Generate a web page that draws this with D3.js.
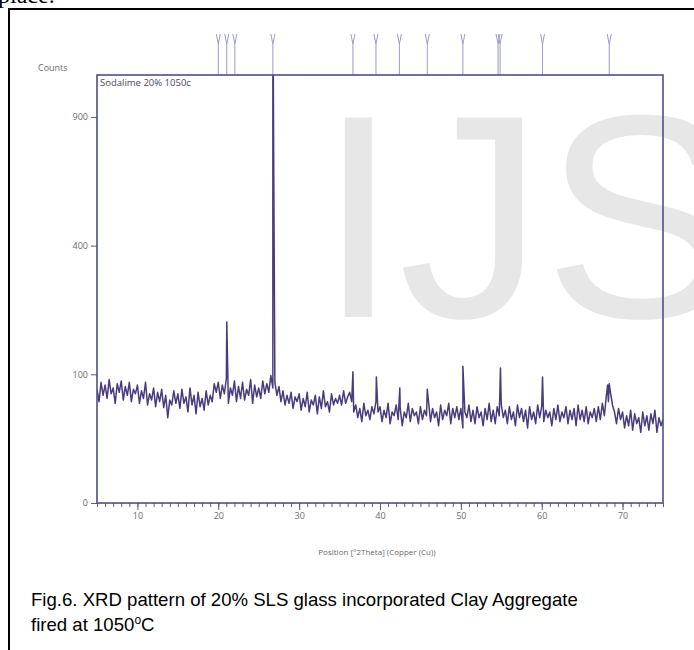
<!DOCTYPE html>
<html>
<head>
<meta charset="utf-8">
<script src="https://cdn.jsdelivr.net/npm/d3@7"></script>
<style>
  body { margin: 0; background: #fff; }
  .tick text { font-family: "Open Sans", sans-serif; font-size: 9px; fill: #6b6b6b; }
</style>
</head>
<body>
<div class="chart"></div>
<script>
// Step 0: data
//= ================================
var startAngle = 5;
var stepAngle = 0.25;

// background counts, 5.00 .. 75.00 deg 2Theta, every 0.25 deg
var counts = [
  78, 62, 88, 70, 84, 66, 92, 72, 80, 60, 86, 74, 90, 64, 82, 70, 88, 62, 78, 72,
  84, 60, 76, 66, 88, 58, 72, 64, 80, 56, 74, 62, 78, 55, 70, 44, 64, 58, 76, 60,
  72, 54, 78, 60, 68, 50, 80, 58, 70, 48, 74, 56, 66, 52, 76, 58, 70, 62, 86, 74,
  88, 66, 84, 72, 94, 60, 80, 70, 90, 62, 82, 66, 88, 64, 78, 70, 92, 60, 84, 68,
  80, 66, 90, 72, 86, 74, 98, 80, 88, 70, 82, 62, 76, 58, 70, 60, 74, 54, 68, 62,
  72, 52, 66, 56, 74, 50, 64, 58, 70, 48, 68, 54, 76, 56, 62, 50, 72, 58, 66, 60,
  70, 58, 76, 60, 68, 74, 62, 50, 58, 44, 54, 40, 60, 46, 52, 42, 56, 48, 62, 50,
  56, 40, 52, 44, 60, 38, 50, 46, 58, 42, 54, 36, 50, 44, 60, 40, 54, 46, 50, 38,
  56, 42, 52, 46, 62, 40, 54, 44, 50, 36, 58, 42, 52, 46, 60, 38, 54, 44, 56, 42,
  54, 34, 50, 44, 58, 40, 52, 38, 56, 44, 50, 36, 54, 42, 60, 40, 52, 38, 56, 46,
  58, 44, 52, 38, 56, 42, 50, 36, 58, 44, 54, 40, 52, 34, 56, 42, 50, 38, 58, 44,
  56, 40, 52, 44, 50, 36, 54, 42, 58, 40, 50, 44, 56, 38, 52, 42, 54, 36, 58, 42,
  52, 40, 56, 38, 50, 44, 54, 40, 56, 42, 60, 46, 70, 62, 74, 58, 50, 38, 54, 42,
  50, 34, 46, 36, 52, 32, 48, 38, 44, 30, 50, 36, 46, 32, 48, 38, 52, 30, 44, 36,
  42
];

// sharp reflections [2Theta, counts]
var peaks = [
  [21.05, 198], [26.75, 1600], [26.85, 730], [36.65, 104], [39.55, 96],
  [42.45, 80], [45.85, 78], [50.25, 113], [54.9, 110], [60.1, 96],
  [68.15, 84], [68.35, 86]
];

// reference pattern markers along the top
var markers = [20.0, 21.05, 22.05, 26.75, 36.65, 39.5, 42.4, 45.85, 50.25, 54.6, 54.85, 60.1, 68.35];

var xTicks = [10, 20, 30, 40, 50, 60, 70];
var yTicks = [0, 100, 400, 900];

// Step 1: Set up our chart
//= ================================
var svgWidth = 694;
var svgHeight = 650;

var margin = { top: 75, right: 31, bottom: 147, left: 97 };

var width = svgWidth - margin.left - margin.right;
var height = svgHeight - margin.top - margin.bottom;

var svg = d3
  .select(".chart")
  .append("svg")
  .attr("width", svgWidth)
  .attr("height", svgHeight)
  .style("display", "block");

// bits of the page around the figure
svg.append("text")
  .attr("x", -2)
  .attr("y", 3)
  .style("font-family", "Liberation Serif, serif")
  .style("font-size", "24px")
  .attr("fill", "#000")
  .text("place.");

svg.append("line")
  .attr("x1", 8).attr("x2", svgWidth)
  .attr("y1", 9).attr("y2", 9)
  .attr("stroke", "#000").attr("stroke-width", 2);

svg.append("line")
  .attr("x1", 9).attr("x2", 9)
  .attr("y1", 8).attr("y2", svgHeight)
  .attr("stroke", "#000").attr("stroke-width", 2);

// watermark
svg.append("text")
  .attr("x", 318)
  .attr("y", 317)
  .style("font-family", "Liberation Sans, Arial, sans-serif")
  .style("font-size", "290px")
  .attr("fill", "#e7e7e7")
  .text("IJS");

var chart = svg.append("g")
  .attr("transform", "translate(" + margin.left + "," + margin.top + ")");

var xLinearScale = d3.scaleLinear().domain([5, 75]).range([0, width]);
var ySqrtScale = d3.scaleSqrt().domain([0, 1106]).range([height, 0]);

// merge background and peaks into one pattern
var pattern = counts.map(function(c, i) {
  return { t: startAngle + i * stepAngle, c: c };
});
peaks.forEach(function(p) {
  pattern.push({ t: p[0], c: p[1] });
});
pattern.sort(function(a, b) { return a.t - b.t; });

chart.append("clipPath")
  .attr("id", "plot-clip")
  .append("rect")
  .attr("width", width)
  .attr("height", height);

var line = d3.line()
  .x(function(d) { return xLinearScale(d.t); })
  .y(function(d) { return ySqrtScale(d.c); });

chart.append("path")
  .datum(pattern)
  .attr("clip-path", "url(#plot-clip)")
  .attr("d", line)
  .attr("fill", "none")
  .attr("stroke", "#4a3b7c")
  .attr("stroke-width", 1.5)
  .attr("stroke-linejoin", "round");

// markers above the frame
chart.selectAll(".marker")
  .data(markers)
  .enter()
  .append("path")
  .attr("class", "marker")
  .attr("d", function(m) {
    var mx = xLinearScale(m);
    return "M" + mx + ",0V-31M" + (mx - 2) + ",-41L" + mx + ",-31L" + (mx + 2) + ",-41";
  })
  .attr("fill", "none")
  .attr("stroke", "#9b9bc8")
  .attr("stroke-width", 1);

// axes
var bottomAxis = d3.axisBottom(xLinearScale)
  .tickValues(xTicks)
  .tickSize(7)
  .tickPadding(3)
  .tickFormat(d3.format("d"));

var minorAxis = d3.axisBottom(xLinearScale)
  .tickValues(d3.range(5, 76))
  .tickSize(4)
  .tickFormat("");

var leftAxis = d3.axisLeft(ySqrtScale)
  .tickValues(yTicks)
  .tickSize(6)
  .tickPadding(3);

chart.append("g")
  .attr("transform", "translate(0," + height + ")")
  .attr("class", "x-axis-minor")
  .call(minorAxis);

chart.append("g")
  .attr("transform", "translate(0," + height + ")")
  .attr("class", "x-axis")
  .call(bottomAxis);

chart.append("g")
  .attr("class", "y-axis")
  .call(leftAxis);

chart.selectAll(".domain").remove();
chart.selectAll(".tick line").attr("stroke", "#5a5a8e").attr("stroke-width", 1);

chart.append("rect")
  .attr("width", width)
  .attr("height", height)
  .attr("fill", "none")
  .attr("stroke", "#4f4f86")
  .attr("stroke-width", 1.6);

// labels
chart.append("text")
  .attr("x", 3)
  .attr("y", 11)
  .style("font-family", "Open Sans, sans-serif")
  .style("font-size", "9.5px")
  .attr("fill", "#4a4a5c")
  .text("Sodalime 20% 1050c");

svg.append("text")
  .attr("x", 38)
  .attr("y", 71)
  .style("font-family", "Open Sans, sans-serif")
  .style("font-size", "9px")
  .attr("fill", "#6b6b6b")
  .text("Counts");

chart.append("text")
  .attr("x", width / 2 - 3)
  .attr("y", height + 52)
  .attr("text-anchor", "middle")
  .style("font-family", "Open Sans, sans-serif")
  .style("font-size", "8px")
  .attr("fill", "#6b6b6b")
  .text("Position [\u00b02Theta] (Copper (Cu))");

// caption
var line1 = svg.append("text")
  .attr("x", 31).attr("y", 606)
  .style("font-family", "Liberation Sans, Arial, sans-serif")
  .style("font-size", "18.6px")
  .attr("fill", "#000")
  .text("Fig.6. XRD pattern of 20% SLS glass incorporated Clay Aggregate");

var line2 = svg.append("text")
  .attr("x", 31).attr("y", 631)
  .style("font-family", "Liberation Sans, Arial, sans-serif")
  .style("font-size", "18.6px")
  .attr("fill", "#000");
line2.append("tspan").text("fired at 1050");
line2.append("tspan").attr("dy", -7).style("font-size", "12px").text("o");
line2.append("tspan").attr("dy", 7).text("C");
</script>
</body>
</html>
